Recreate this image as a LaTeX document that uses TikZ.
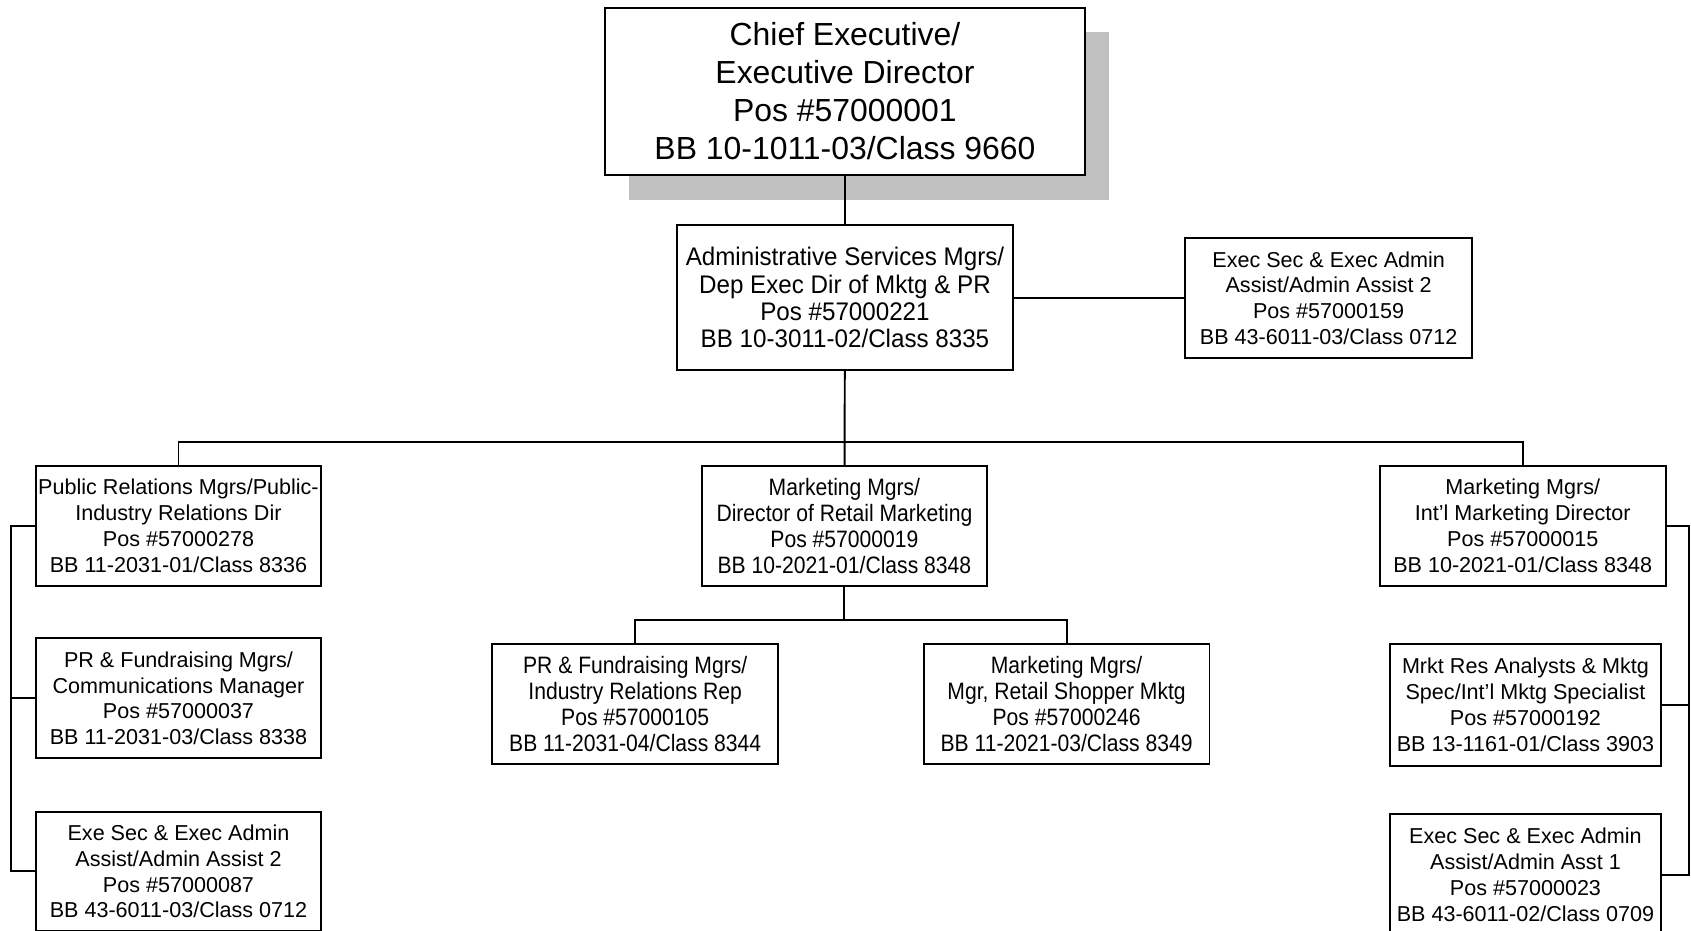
\documentclass[tikz,border=0pt]{standalone}
\usepackage{fontspec}
\setmainfont{Liberation Sans}
\newfontfamily\narrowsf[FakeStretch=0.89]{Liberation Sans}
\newfontfamily\semisf[FakeStretch=0.95]{Liberation Sans}
\usepackage{tikz}
\usetikzlibrary{positioning}
\usetikzlibrary{shadows}
\definecolor{shadowgrey}{HTML}{C0C0C0}

\begin{document}
\begin{tikzpicture}
    [
    x=0.5pt, y=-0.5pt, line width=0.9pt,
    post/.style={draw,fill=white,align=center,inner sep=0pt,minimum width=132.5pt,minimum height=55.5pt,font=\fontsize{10}{12}\selectfont},
    narrow/.style={font=\narrowsf\fontsize{11}{12}\selectfont},
    chief/.style={post,minimum width=222.5pt,minimum height=77.5pt,font=\fontsize{14.8}{17.75}\selectfont,
      drop shadow={shadow xshift=11pt,shadow yshift=-11.5pt,fill=shadowgrey,opacity=1}},
    ]
    \useasboundingbox (0,0) rectangle (1568,863);

    \node (ceo) at (783.5,84.5) [chief] {Chief Executive/\\Executive Director\\Pos \#57000001\\BB 10-1011-03/Class 9660};
    \node (dep) at (783.5,276) [post,minimum width=155.5pt,minimum height=67pt,font=\semisf\fontsize{11.8}{12.7}\selectfont]
      {Administrative Services Mgrs/\\Dep Exec Dir of Mktg \& PR\\Pos \#57000221\\BB 10-3011-02/Class 8335};
    \node (sec1) at (1232,276.5) [post,minimum width=133pt] {Exec Sec \& Exec Admin\\Assist/Admin Assist 2\\Pos \#57000159\\BB 43-6011-03/Class 0712};

    % second level
    \node (prdir) at (165.5,487.5) [post] {Public Relations Mgrs/Public-\\Industry Relations Dir\\Pos \#57000278\\BB 11-2031-01/Class 8336};
    \node (retail) at (783,487.5) [post,narrow] {Marketing Mgrs/\\Director of Retail Marketing\\Pos \#57000019\\BB 10-2021-01/Class 8348};
    \node (intl) at (1412,487.5) [post] {Marketing Mgrs/\\Int'l Marketing Director\\Pos \#57000015\\BB 10-2021-01/Class 8348};

    % left column
    \node (comms) at (165.5,647.5) [post] {PR \& Fundraising Mgrs/\\Communications Manager\\Pos \#57000037\\BB 11-2031-03/Class 8338};
    \node (sec2) at (165.5,808) [post] {Exe Sec \& Exec Admin\\Assist/Admin Assist 2\\Pos \#57000087\\BB 43-6011-03/Class 0712};

    % middle
    \node (prrep) at (589,652.5) [post,narrow] {PR \& Fundraising Mgrs/\\Industry Relations Rep\\Pos \#57000105\\BB 11-2031-04/Class 8344};
    \node (shopper) at (989,652.5) [post,narrow] {Marketing Mgrs/\\Mgr, Retail Shopper Mktg\\Pos \#57000246\\BB 11-2021-03/Class 8349};

    % right column
    \node (spec) at (1414.5,653.5) [post,minimum width=125.5pt,minimum height=56.5pt] {Mrkt Res Analysts \& Mktg\\Spec/Int'l Mktg Specialist\\Pos \#57000192\\BB 13-1161-01/Class 3903};
    \node (sec3) at (1414.5,811) [post,minimum width=125.5pt,minimum height=56.5pt] {Exec Sec \& Exec Admin\\Assist/Admin Asst 1\\Pos \#57000023\\BB 43-6011-02/Class 0709};

    \coordinate (bus1) at (783,410);
    \coordinate (bus2) at (783,575);
    \coordinate (lrail) at (10,0);
    \coordinate (rrail) at (1566,0);

    \draw (ceo) to (dep);
    \draw (dep.east) to (dep.east -| sec1.west);
    \draw (dep) to (retail);
    \draw (prdir.north) |- (bus1) -| (intl.north);
    \draw (retail) to (bus2);
    \draw (prrep.north) |- (bus2) -| (shopper.north);

    \draw (prdir.west) -- (prdir.west -| lrail) |- (sec2.west);
    \draw (comms.west) to (comms.west -| lrail);
    \draw (intl.east) -- (intl.east -| rrail) |- (sec3.east);
    \draw (spec.east) to (spec.east -| rrail);
  \end{tikzpicture}
\end{document}
